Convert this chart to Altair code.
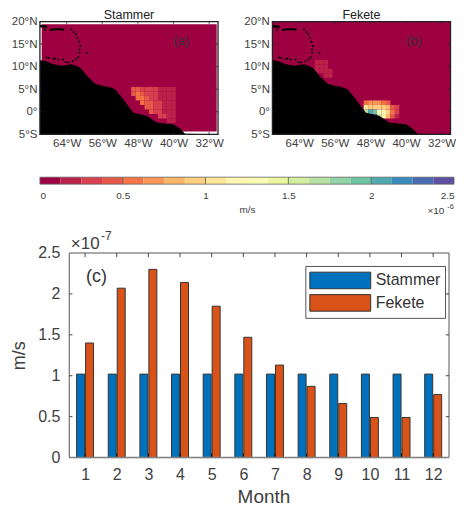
import altair as alt
import pandas as pd

# ---------- data ----------
months = list(range(1, 13))
stammer = [1.02] * 12
fekete = [1.40, 2.07, 2.30, 2.14, 1.85, 1.47, 1.13, 0.87, 0.66, 0.49, 0.49, 0.77]

palette = ["#9E0142", "#BB2149", "#D7404E", "#E75948", "#F57446", "#FA9656", "#FDB668",
           "#FECF7D", "#FEE696", "#FFF7B2", "#F8FCB5", "#EBF7A0", "#D3EE9C", "#B6E1A2",
           "#91D3A4", "#6EC5A5", "#50AAAF", "#378BBC", "#476BB0", "#5E4FA2"]
bar_levels = [i * 0.125 for i in range(21)]

coast_lon = [-70, -68.9, -67, -65.1, -62.9, -61, -60.2, -59.4, -57.6, -55.8, -54.5, -53.1, -51.3,
             -49.9, -49, -46, -43.8, -42, -40, -38.5, -37.4, -30]
coast_lat = [11.4, 11.3, 10.5, 10.2, 10.5, 9.8, 8.9, 7.9, 6.2, 5.7, 5.5, 5.0, 2.8,
             0.9, -0.2, -0.9, -2.4, -2.6, -2.75, -3.8, -4.9, -5]

dots_lon = [-68.9, -62.9, -62.4, -61.9, -61.6, -61.2, -60.9, -61.1, -61.1, -61.4, -61.9, -63.6,
            -64.8, -65.9, -67.0, -68.5, -59.4, -62.6, -64.2, -66.6, -68.0]
dots_lat = [18.2, 18.3, 17.7, 17.2, 16.4, 15.5, 14.6, 13.8, 13.1, 12.1, 11.6, 10.9,
            11.6, 11.6, 11.7, 12.0, 13.1, 11.2, 11.0, 11.8, 11.9]
blob_lon = [-67.8, -66.6, -65.4, -64.6]
blob_lat = [18.1, 18.3, 18.3, 18.2]
corner_lon = [-70, -69.2, -68.4]
corner_lat = [19.0, 18.9, 18.8]

# (lat, first lon, levels)
cells_a = [(5, -49, [3, 3, 2, 2, 2, 2, 1, 1, 1, 1]),
           (4, -49, [3, 4, 3, 2, 2, 2, 1, 1, 1, 1]),
           (3, -48, [4, 4, 3, 2, 2, 1, 1, 1, 1]),
           (2, -47, [4, 3, 3, 2, 2, 1, 1, 1]),
           (1, -46, [3, 3, 2, 2, 1, 1, 1]),
           (0, -45, [3, 2, 2, 1, 1, 1]),
           (-1, -43, [2, 2, 1, 1]),
           (-2, -41, [1, 1])]
cells_b = [(2, -49, [4, 5, 5, 5, 4, 3]),
           (1, -49, [8, 7, 7, 7, 7, 6, 3, 2]),
           (0, -49, [13, 16, 15, 10, 9, 7, 4, 2]),
           (-1, -48, [18, 19, 12, 9, 6, 3, 1]),
           (11, -60, [1, 1, 1]),
           (10, -60, [1, 1, 1]),
           (9, -60, [1, 1, 1, 1]),
           (8, -58, [1, 1])]

lon_ticks = [-64, -56, -48, -40, -32]
lat_ticks = [-5, 0, 5, 10, 15, 20]
val_ticks = [0, 0.5, 1, 1.5, 2, 2.5]
INK = "#404040"
FONT = "Liberation Sans"
MAP_W, MAP_H = 178.5, 113
CB_W, CB_H = 415, 7
SHIFT = 25                     # the bar panel's axes start this far inside its view
BAR_PLOT = 390
BAR_W, BAR_H = BAR_PLOT + SHIFT, 205
BAR_LEFT = 0.5 - SHIFT * 12 / BAR_PLOT


def spacer(px, py):
    """Invisible text fixing the layout bounds of a panel."""
    return alt.Chart(pd.DataFrame(dict(t=["."]))).mark_text(fontSize=1, opacity=0, align="left").encode(
        x=alt.value(px), y=alt.value(py), text="t")


def expand(rows):
    return pd.DataFrame([dict(x=lon - 0.5 + i, x2=lon + 0.5 + i, y=lat - 0.5, y2=lat + 0.5, v=v)
                         for lat, lon, levels in rows for i, v in enumerate(levels)])


def map_panel(title, tag, rows, ocean, right_pad):
    xs = alt.Scale(domain=[-70, -30], nice=False, zero=False)
    ys = alt.Scale(domain=[-5, 20], nice=False, zero=False)
    X = lambda f, **k: alt.X(f, type="quantitative", scale=xs, title=None, **k)
    Y = lambda f, **k: alt.Y(f, type="quantitative", scale=ys, title=None, **k)
    xaxis = alt.Axis(values=lon_ticks, tickCount=len(lon_ticks), labelExpr="abs(datum.value)+'°W'", ticks=False,
                     domain=False, grid=False, labelFontSize=11.5, labelColor=INK, labelPadding=3, labelFont=FONT,
                     labelOverlap=False)
    yaxis = alt.Axis(values=lat_ticks, tickCount=len(lat_ticks), ticks=False, domain=False, grid=False,
                     labelOverlap=False,
                     labelExpr="datum.value==0?'0°':abs(datum.value)+(datum.value>0?'°N':'°S')",
                     labelFontSize=11.5, labelColor=INK, labelPadding=3, labelFont=FONT)
    base = alt.Chart(pd.DataFrame(dict(x=[ocean[0]], x2=[ocean[1]], y=[ocean[2]], y2=[ocean[3]])))
    sea = base.mark_rect(fill=palette[0]).encode(x=X("x", axis=xaxis), x2="x2", y=Y("y", axis=yaxis), y2="y2")
    cells = alt.Chart(expand(rows)).mark_rect().encode(
        x=X("x"), x2="x2", y=Y("y"), y2="y2",
        color=alt.Color("v:O", scale=alt.Scale(domain=list(range(20)), range=palette), legend=None))
    land = alt.Chart(pd.DataFrame(dict(x=coast_lon, y=coast_lat, b=[-5] * len(coast_lon)))).mark_area(
        color="#000000", orient="vertical").encode(x=X("x"), y=Y("y"), y2="b")
    dots = alt.Chart(pd.DataFrame(dict(x=dots_lon, y=dots_lat))).mark_point(
        filled=True, color="#000000", size=4, opacity=1).encode(x=X("x"), y=Y("y"))
    blob = alt.Chart(pd.DataFrame(dict(x=blob_lon, y=blob_lat))).mark_line(
        color="#000000", strokeWidth=2).encode(x=X("x"), y=Y("y"))
    corner = alt.Chart(pd.DataFrame(dict(x=corner_lon, y=corner_lat))).mark_line(
        color="#000000", strokeWidth=2.5).encode(x=X("x"), y=Y("y"))
    frame = alt.Chart(pd.DataFrame(dict(x=[-70], x2=[-30], y=[-5], y2=[20]))).mark_rect(
        fill=None, stroke="#222222", strokeWidth=1.3).encode(x=X("x"), x2="x2", y=Y("y"), y2="y2")
    tk_x = alt.Chart(pd.DataFrame(dict(x=lon_ticks * 2, y=[-5] * 5 + [20] * 5,
                                       y2=[-4.5] * 5 + [19.5] * 5))).mark_rule(
        color="#222222", strokeWidth=0.8).encode(x=X("x"), y=Y("y"), y2="y2")
    tk_y = alt.Chart(pd.DataFrame(dict(y=lat_ticks * 2, x=[-70] * 6 + [-30] * 6,
                                       x2=[-69.5] * 6 + [-30.5] * 6))).mark_rule(
        color="#222222", strokeWidth=0.8).encode(y=Y("y"), x=X("x"), x2="x2")
    label = alt.Chart(pd.DataFrame(dict(x=[-40], y=[15.7], t=[tag]))).mark_text(
        align="left", baseline="middle", fontSize=13, color="#333333", font=FONT).encode(
        x=X("x"), y=Y("y"), text="t")
    head = alt.Chart(pd.DataFrame(dict(x=[-50], y=[20], t=[title]))).mark_text(
        align="center", baseline="middle", dy=-6.5, fontSize=12.5, color="#222222", font=FONT).encode(
        x=X("x"), y=Y("y"), text="t")
    return alt.layer(sea, cells, land, dots, blob, corner, frame, tk_x, tk_y, label, head,
                     spacer(-32, MAP_H + 25), spacer(MAP_W + right_pad, 0)).properties(
        width=MAP_W, height=MAP_H)


map_a = map_panel("Stammer", "(a)", cells_a, (-69.6, -30.3, -4.4, 19.4), 10)
map_b = map_panel("Fekete", "(b)", cells_b, (-70, -30, -5, 20), 0)

# ---------- colour bar ----------
cb_df = pd.DataFrame(dict(x=bar_levels[:-1], x2=bar_levels[1:], c=palette, y=[0] * 20, y2=[1] * 20))
cb_x = alt.Scale(domain=[0, 2.5], nice=False, zero=False)
cb_y = alt.Scale(domain=[0, 1], nice=False, zero=False)
cb_rects = alt.Chart(cb_df).mark_rect().encode(
    x=alt.X("x:Q", scale=cb_x,
            axis=alt.Axis(values=val_ticks, tickCount=6, format="~g", ticks=False, domain=False, grid=False,
                          labelFontSize=10, labelColor=INK, labelPadding=6, labelFlush=True, labelFont=FONT,
                          labelOverlap=False,
                          title="m/s", titleFontSize=10, titleFontWeight="normal", titleColor=INK,
                          titlePadding=4, titleFont=FONT)),
    x2="x2",
    y=alt.Y("y:Q", scale=cb_y, axis=None),
    y2="y2",
    color=alt.Color("c:N", scale=None))
cb_ticks = alt.Chart(pd.DataFrame(dict(x=[0.5, 1, 1.5, 2], y=[0] * 4, y2=[1] * 4))).mark_rule(
    color="#555555", strokeWidth=0.8).encode(
    x=alt.X("x:Q", scale=cb_x), y=alt.Y("y:Q", scale=cb_y), y2="y2")
cb_frame = alt.Chart(pd.DataFrame(dict(x=[0], x2=[2.5], y=[0], y2=[1]))).mark_rect(
    fill=None, stroke="#666666", strokeWidth=0.8).encode(
    x=alt.X("x:Q", scale=cb_x), x2="x2", y=alt.Y("y:Q", scale=cb_y), y2="y2")
cb_e1 = alt.Chart(pd.DataFrame(dict(x=[2.34], y=[0], t=["×10"]))).mark_text(
    align="left", baseline="middle", dy=27, fontSize=10, color=INK, font=FONT).encode(
    x=alt.X("x:Q", scale=cb_x), y=alt.Y("y:Q", scale=cb_y), text="t")
cb_e2 = alt.Chart(pd.DataFrame(dict(x=[2.5], y=[0], t=["-6"]))).mark_text(
    align="right", baseline="middle", dy=23, fontSize=7.5, color=INK, font=FONT).encode(
    x=alt.X("x:Q", scale=cb_x), y=alt.Y("y:Q", scale=cb_y), text="t")
colorbar = alt.layer(cb_rects, cb_ticks, cb_frame, cb_e1, cb_e2,
                     spacer(-32, -16.5), spacer(0, CB_H + 42)).properties(width=CB_W, height=CB_H)

# ---------- bars ----------
df = pd.DataFrame(dict(m=months * 2, v=stammer + fekete,
                       s=["Stammer"] * 12 + ["Fekete"] * 12))
bx = alt.Scale(domain=[BAR_LEFT, 12.5], nice=False, zero=False)
by = alt.Scale(domain=[0, 2.5], nice=False)
color = alt.Color("s:N", scale=alt.Scale(domain=["Stammer", "Fekete"], range=["#0072BD", "#D95319"]),
                  title=None,
                  legend=alt.Legend(orient="none", legendX=241 + SHIFT, legendY=13, fillColor="#FFFFFF",
                                    strokeColor="#555555", padding=4, rowPadding=1.5,
                                    symbolType="M-3.05,-0.83H3.05V0.83H-3.05Z", symbolSize=400,
                                    symbolOffset=20.5, labelOffset=25, labelFontSize=16, labelColor="#333333",
                                    labelFont=FONT, symbolStrokeColor="#333333", symbolStrokeWidth=1,
                                    symbolOpacity=1))
x_axis = alt.Axis(values=months, tickCount=12, ticks=False, domain=False, grid=False, format="d", labelFontSize=16,
                  labelColor=INK, labelPadding=9, labelFlush=False, labelFont=FONT, labelOverlap=False, title="Month",
                  titleFontSize=19, titleFontWeight="normal", titleColor=INK, titlePadding=5, titleFont=FONT,
                  titleX=SHIFT + 199)
y_axis = alt.Axis(values=val_ticks, tickCount=6, format="~g", ticks=False, domain=False, grid=False, offset=-SHIFT,
                  labelFontSize=16, labelColor=INK, labelPadding=5, labelFont=FONT, labelOverlap=False, title="m/s",
                  titleFontSize=18, titleFontWeight="normal", titleColor=INK, titlePadding=9, titleFont=FONT)
bars_a = alt.Chart(df[df.s == "Stammer"]).mark_bar(size=8, xOffset=-4.5, stroke="#333333", strokeWidth=1).encode(
    x=alt.X("m:Q", scale=bx, axis=x_axis), y=alt.Y("v:Q", scale=by, axis=y_axis), color=color)
bars_b = alt.Chart(df[df.s == "Fekete"]).mark_bar(size=8, xOffset=4.5, stroke="#333333", strokeWidth=1).encode(
    x=alt.X("m:Q", scale=bx), y=alt.Y("v:Q", scale=by), color=color)
tk_b = alt.Chart(pd.DataFrame(dict(x=months, y=[0] * 12, y2=[0.05] * 12))).mark_rule(
    color="#111111", strokeWidth=1).encode(x=alt.X("x:Q", scale=bx), y=alt.Y("y:Q", scale=by), y2="y2")
tk_t = alt.Chart(pd.DataFrame(dict(x=months, y=[2.5] * 12, y2=[2.45] * 12))).mark_rule(
    color="#444444", strokeWidth=1).encode(x=alt.X("x:Q", scale=bx), y=alt.Y("y:Q", scale=by), y2="y2")
rt = [0.5, 1, 1.5, 2]
tk_r = alt.Chart(pd.DataFrame(dict(y=rt, x=[12.5] * 4, x2=[12.4] * 4))).mark_rule(
    color="#444444", strokeWidth=1).encode(y=alt.Y("y:Q", scale=by), x=alt.X("x:Q", scale=bx), x2="x2")
tk_l = alt.Chart(pd.DataFrame(dict(y=rt, x=[0.5] * 4, x2=[0.6] * 4))).mark_rule(
    color="#444444", strokeWidth=1).encode(y=alt.Y("y:Q", scale=by), x=alt.X("x:Q", scale=bx), x2="x2")
frame_b = alt.Chart(pd.DataFrame(dict(x=[0.5], x2=[12.5], y=[0], y2=[2.5]))).mark_rect(
    fill=None, stroke="#555555", strokeWidth=1).encode(
    x=alt.X("x:Q", scale=bx), x2="x2", y=alt.Y("y:Q", scale=by), y2="y2")
base_b = alt.Chart(pd.DataFrame(dict(x=[0.5], x2=[12.5], y=[0]))).mark_rule(
    color="#808080", strokeWidth=1.5).encode(x=alt.X("x:Q", scale=bx), x2="x2", y=alt.Y("y:Q", scale=by))
tag_c = alt.Chart(pd.DataFrame(dict(x=[1.03], y=[2.21], t=["(c)"]))).mark_text(
    align="left", baseline="middle", fontSize=18, color="#333333", font=FONT).encode(
    x=alt.X("x:Q", scale=bx), y=alt.Y("y:Q", scale=by), text="t")
e1 = alt.Chart(pd.DataFrame(dict(x=[0.55], y=[2.5], t=["×10"]))).mark_text(
    align="left", baseline="middle", dy=-9, fontSize=17, color=INK, font=FONT).encode(
    x=alt.X("x:Q", scale=bx), y=alt.Y("y:Q", scale=by), text="t")
e2 = alt.Chart(pd.DataFrame(dict(x=[1.5], y=[2.5], t=["-7"]))).mark_text(
    align="left", baseline="middle", dy=-17, fontSize=12, color=INK, font=FONT).encode(
    x=alt.X("x:Q", scale=bx), y=alt.Y("y:Q", scale=by), text="t")
bar_chart = alt.layer(bars_a, bars_b, frame_b, tk_t, tk_r, tk_l, tk_b, base_b, tag_c, e1, e2,
                      spacer(-32, -26)).properties(width=BAR_W, height=BAR_H)

chart = alt.vconcat(
    alt.hconcat(map_a, map_b, spacing=12),
    colorbar,
    bar_chart,
    spacing=0,
).resolve_scale(color="independent").properties(padding=0, background="#FFFFFF").configure_view(stroke=None)

chart.save("out.html", embed_options={"renderer": "svg", "actions": False})
